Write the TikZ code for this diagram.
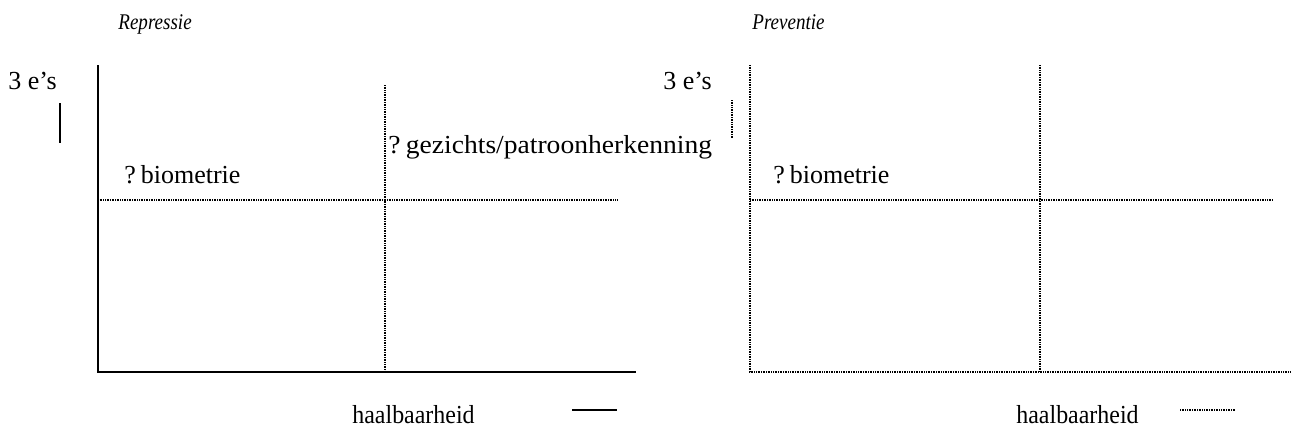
\documentclass[tikz,border=0pt]{standalone}
\usepackage{fontspec}
\setmainfont{Liberation Serif}
\newfontfamily\ttlserif[FakeStretch=0.85]{Liberation Serif}
\newfontfamily\wideserif[FakeStretch=1.06]{Liberation Serif}
\newfontfamily\narrowserif[FakeStretch=0.92]{Liberation Serif}
\begin{document}
\begin{tikzpicture}[x=0.5pt,y=-0.5pt,
  solidln/.style={line width=0.9pt},
  dotln/.style={line width=0.65pt,dash pattern=on 0.5pt off 0.35pt},
  lbl/.style={anchor=base west,inner sep=0pt,font=\fontsize{13}{15}\selectfont},
  ttl/.style={anchor=base west,inner sep=0pt,font=\ttlserif\fontsize{11.2}{13}\selectfont\itshape}]
\useasboundingbox (0,0) rectangle (1294,435);
% ---- left panel: Repressie ----
\node[ttl] (t1) at (118,29) {Repressie};
\node[lbl] (e1) at (8,89) {3 e’s};
\coordinate (s1a) at (60,103); \coordinate (s1b) at (60,143);
\draw[solidln] (s1a) -- (s1b);
\coordinate (o1) at (98,372);
\coordinate (y1) at (98,65);
\coordinate (x1) at (636,372);
\draw[solidln] (y1) -- (o1) -- (x1);
\coordinate (v1a) at (385,85); \coordinate (v1b) at (385,372);
\draw[dotln] (v1a) -- (v1b);
\coordinate (h1a) at (98,200); \coordinate (h1b) at (618,200);
\draw[dotln] (h1a) -- (h1b);
\node[lbl] (b1) at (124,183) {?\kern-0.8pt\ biometrie};
\node[lbl,font=\wideserif\fontsize{13}{15}\selectfont] (g1) at (388,153) {?\kern-0.8pt\ gezichts/patroonherkenning};
\node[lbl,font=\narrowserif\fontsize{13}{15}\selectfont] (hb1) at (352,423) {haalbaarheid};
\coordinate (u1a) at (572,410); \coordinate (u1b) at (617,410);
\draw[solidln] (u1a) -- (u1b);
% ---- right panel: Preventie ----
\node[ttl] (t2) at (752,29) {Preventie};
\node[lbl] (e2) at (663,89) {3 e’s};
\coordinate (s2a) at (732,100); \coordinate (s2b) at (732,138);
\draw[dotln] (s2a) -- (s2b);
\coordinate (o2) at (750,372);
\coordinate (y2) at (750,65);
\coordinate (x2) at (1290,372);
\draw[dotln] (y2) -- (o2) -- (x2);
\coordinate (v2a) at (1040,65); \coordinate (v2b) at (1040,372);
\draw[dotln] (v2a) -- (v2b);
\coordinate (h2a) at (750,200); \coordinate (h2b) at (1272,200);
\draw[dotln] (h2a) -- (h2b);
\node[lbl] (b2) at (773,183) {?\kern-0.8pt\ biometrie};
\node[lbl,font=\narrowserif\fontsize{13}{15}\selectfont] (hb2) at (1016,423) {haalbaarheid};
\coordinate (u2a) at (1180,410); \coordinate (u2b) at (1235,410);
\draw[dotln] (u2a) -- (u2b);
\end{tikzpicture}
\end{document}
